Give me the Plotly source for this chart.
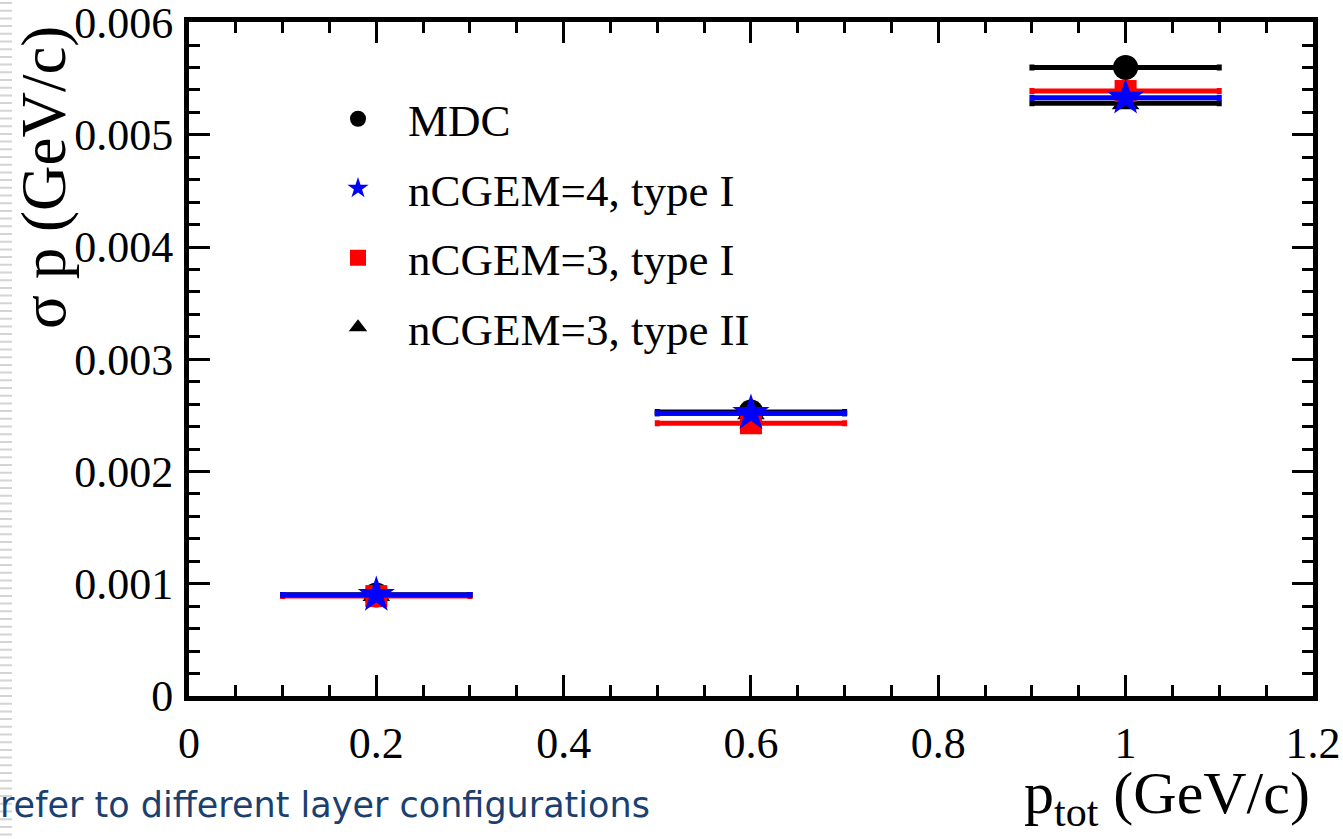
import plotly.graph_objects as go

# ---- data ----
p_tot = [0.2, 0.6, 1.0]
p_err = [0.1, 0.1, 0.1]
mdc = [0.00090, 0.00253, 0.00560]
cgem4_I = [0.00090, 0.00252, 0.00533]
cgem3_I = [0.00089, 0.00243, 0.00539]
cgem3_II = [0.00090, 0.00252, 0.00528]

series_names = ["MDC", "nCGEM=4, type I", "nCGEM=3, type I", "nCGEM=3, type II"]

x_ticks = [0, 0.2, 0.4, 0.6, 0.8, 1.0, 1.2]
x_ticklabels = ["0", "0.2", "0.4", "0.6", "0.8", "1", "1.2"]
y_ticks = [0, 0.001, 0.002, 0.003, 0.004, 0.005, 0.006]
y_ticklabels = ["0", "0.001", "0.002", "0.003", "0.004", "0.005", "0.006"]

W, H = 1343, 839
L, R, T, B = 189, 1313, 22, 696


def px(xp):
    return (xp - L) / (R - L)


def py(yp):
    return (B - yp) / (B - T)


SERIF = "Liberation Serif"

fig = go.Figure()


def add(name, y, color, symbol, size, rank):
    fig.add_trace(go.Scatter(
        x=p_tot, y=y, mode="markers", name=name,
        marker=dict(symbol=symbol, size=size, color=color, line=dict(width=0)),
        error_x=dict(type="data", array=p_err, color=color, thickness=5, width=3),
        legendrank=rank, legendgroup=name,
    ))


add(series_names[0], mdc, "black", "circle", 25, 1)
add(series_names[3], cgem3_II, "black", "triangle-up", 24, 4)
add(series_names[2], cgem3_I, "#ff0000", "square", 22, 3)
add(series_names[1], cgem4_I, "#0000ff", "star", 28, 2)

axis_common = dict(
    showline=True, linecolor="black", linewidth=5, mirror="allticks",
    ticks="inside", ticklen=21, tickwidth=3, tickcolor="black",
    showgrid=False, zeroline=False, ticklabeloverflow="allow", automargin=False,
    tickfont=dict(family=SERIF, size=44, color="black"),
)

fig.update_xaxes(range=[0, 1.2001], tickmode="array", tickvals=x_ticks, ticktext=x_ticklabels,
                 minor=dict(dtick=0.05, tick0=0, ticks="inside", ticklen=11, tickwidth=3, tickcolor="black"),
                 ticklabelstandoff=4, **axis_common)
fig.update_yaxes(range=[0, 0.006005], tickmode="array", tickvals=y_ticks, ticktext=y_ticklabels,
                 minor=dict(dtick=0.0002, tick0=0, ticks="inside", ticklen=11, tickwidth=3, tickcolor="black"),
                 ticklabelstandoff=2, **axis_common)

# decorative stripes on left edge (slide template)
path = ""
yy = 3
while yy < H:
    path += f"M {px(0):.5f} {py(yy):.5f} H {px(12):.5f} "
    yy += 7.7
shapes = [dict(type="path", xref="paper", yref="paper", path=path,
               line=dict(color="#d4d4d4", width=2), layer="below")]

annotations = [
    dict(text="σ p (GeV/c)", textangle=-90, x=px(44), y=py(178), xref="paper", yref="paper",
         showarrow=False, font=dict(family=SERIF, size=63, color="black"),
         xanchor="center", yanchor="middle"),
    dict(text="p<sub>tot</sub> (GeV/c)", x=px(1312), y=py(797), xref="paper", yref="paper",
         showarrow=False, font=dict(family=SERIF, size=60, color="black"),
         xanchor="right", yanchor="middle"),
    dict(text="refer to different layer configurations", x=px(-2), y=py(805), xref="paper", yref="paper",
         showarrow=False, font=dict(family="DejaVu Sans", size=35, color="#1b3f6e"),
         xanchor="left", yanchor="middle"),
    dict(text="(cathode/anode level)", x=px(678), y=py(855), xref="paper", yref="paper",
         showarrow=False, font=dict(family="DejaVu Sans", size=35, color="#1b3f6e"),
         xanchor="right", yanchor="middle"),
]

fig.update_layout(
    width=W, height=H,
    margin=dict(l=L, r=W - R, t=T, b=H - B, autoexpand=False),
    paper_bgcolor="white", plot_bgcolor="white",
    shapes=shapes, annotations=annotations,
    showlegend=True,
    legend=dict(x=px(308), y=py(83), xanchor="left", yanchor="top",
                bgcolor="rgba(0,0,0,0)", borderwidth=0,
                font=dict(family=SERIF, size=45, color="black"),
                itemwidth=90, tracegroupgap=8, itemsizing="trace"),
)

fig.write_html("out.html")
